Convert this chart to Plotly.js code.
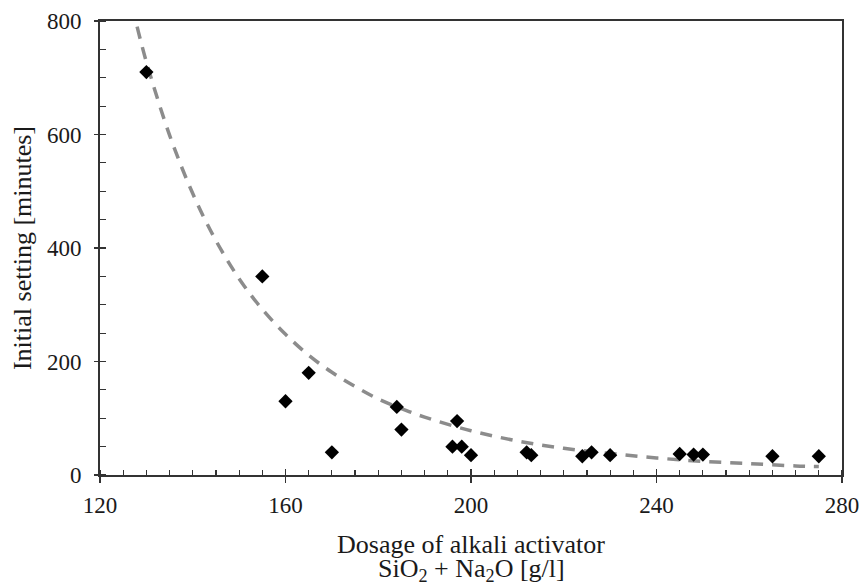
<!DOCTYPE html>
<html>
<head>
<meta charset="utf-8">
<script src="https://cdn.plot.ly/plotly-3.0.1.min.js"></script>
<style>html,body{margin:0;padding:0;background:#fff;}#chart{width:862px;height:585px;}</style>
</head>
<body>
<div id="chart"></div>
<script>
// Measured points: dosage of alkali activator [g/l] vs initial setting [minutes]
const dosage = [130, 155, 160, 165, 170, 184, 185, 196, 197, 198, 200, 212, 213, 224, 226, 230, 245, 248, 250, 265, 275];
const setting = [710, 350, 130, 180, 40, 120, 80, 50, 95, 50, 35, 40, 35, 33, 40, 35, 37, 36, 36, 33, 33];

// Trend line
const trendX = [128, 130, 135, 140, 145, 150, 155, 160, 165, 170, 175, 180, 185, 190, 200, 210, 220, 230, 240, 250, 260, 270, 275];
const trendY = [790, 728, 599, 496, 413, 346, 292, 248, 211, 181, 156, 134, 117, 102, 78, 60, 47, 38, 30, 24, 20, 16, 15];

const xTicks = [120, 160, 200, 240, 280];
const yTicks = [0, 200, 400, 600, 800];

const xTitleLines = ["Dosage of alkali activator", "SiO<sub>2</sub> + Na<sub>2</sub>O [g/l]"];
const yTitle = "Initial setting [minutes]";

const serif = "Liberation Serif, Times New Roman, serif";
const axisCol = "#333333";
const textCol = "#1a1a1a";

const traces = [
  {x: trendX, y: trendY, type: "scatter", mode: "lines", line: {color: "#8c8c8c", width: 3.5, dash: "12px,9px", shape: "spline"}, hoverinfo: "skip", showlegend: false},
  {x: dosage, y: setting, type: "scatter", mode: "markers", marker: {symbol: "diamond", size: 11, color: "#000"}, showlegend: false}
];

const layout = {
  width: 862, height: 585,
  margin: {l: 100, r: 20, t: 21, b: 110},
  paper_bgcolor: "#fff", plot_bgcolor: "#fff",
  font: {family: serif, size: 23, color: textCol},
  showlegend: false,
  xaxis: {
    range: [120, 280], tickvals: xTicks, ticktext: xTicks.map(String),
    ticks: "outside", ticklen: 6, tickwidth: 1.5, tickcolor: axisCol,
    minor: {dtick: 5, tick0: 120, ticks: "inside", ticklen: 5, tickwidth: 1.2, tickcolor: axisCol, showgrid: false},
    showline: true, linecolor: axisCol, linewidth: 2, mirror: true,
    showgrid: false, zeroline: false, ticklabelstandoff: 2,
    tickfont: {family: serif, size: 23, color: textCol}
  },
  xaxis2: {
    overlaying: "x", anchor: "y", side: "bottom", range: [120, 280], tickvals: xTicks,
    ticks: "inside", ticklen: 6, tickwidth: 1.5, tickcolor: axisCol,
    showticklabels: false, showline: false, showgrid: false, zeroline: false
  },
  yaxis: {
    range: [0, 800], tickvals: yTicks, ticktext: yTicks.map(String),
    ticks: "outside", ticklen: 4, tickwidth: 1.5, tickcolor: axisCol,
    minor: {dtick: 50, tick0: 0, ticks: "inside", ticklen: 6, tickwidth: 1.2, tickcolor: axisCol, showgrid: false},
    showline: true, linecolor: axisCol, linewidth: 2, mirror: true,
    showgrid: false, zeroline: false, ticklabelstandoff: 8,
    tickfont: {family: serif, size: 23, color: textCol},
    title: {text: yTitle, font: {family: serif, size: 26, color: textCol}, standoff: 8}
  },
  yaxis2: {
    overlaying: "y", anchor: "x", side: "left", range: [0, 800], tickvals: yTicks,
    ticks: "inside", ticklen: 6, tickwidth: 1.5, tickcolor: axisCol,
    showticklabels: false, showline: false, showgrid: false, zeroline: false
  },
  annotations: [
    {text: xTitleLines[0], xref: "paper", yref: "paper", x: 0.5, y: 0, xanchor: "center", yanchor: "middle", yshift: -69, showarrow: false, borderpad: 0, font: {family: serif, size: 26, color: textCol}},
    {text: xTitleLines[1], xref: "paper", yref: "paper", x: 0.5, y: 0, xanchor: "center", yanchor: "middle", yshift: -95, showarrow: false, borderpad: 0, font: {family: serif, size: 26, color: textCol}}
  ]
};

// invisible trace to activate the overlay axes
traces.push({x: [120], y: [0], xaxis: "x2", yaxis: "y2", mode: "markers", marker: {opacity: 0}, hoverinfo: "skip", showlegend: false});

Plotly.newPlot("chart", traces, layout, {staticPlot: true, displayModeBar: false});
</script>
</body>
</html>
